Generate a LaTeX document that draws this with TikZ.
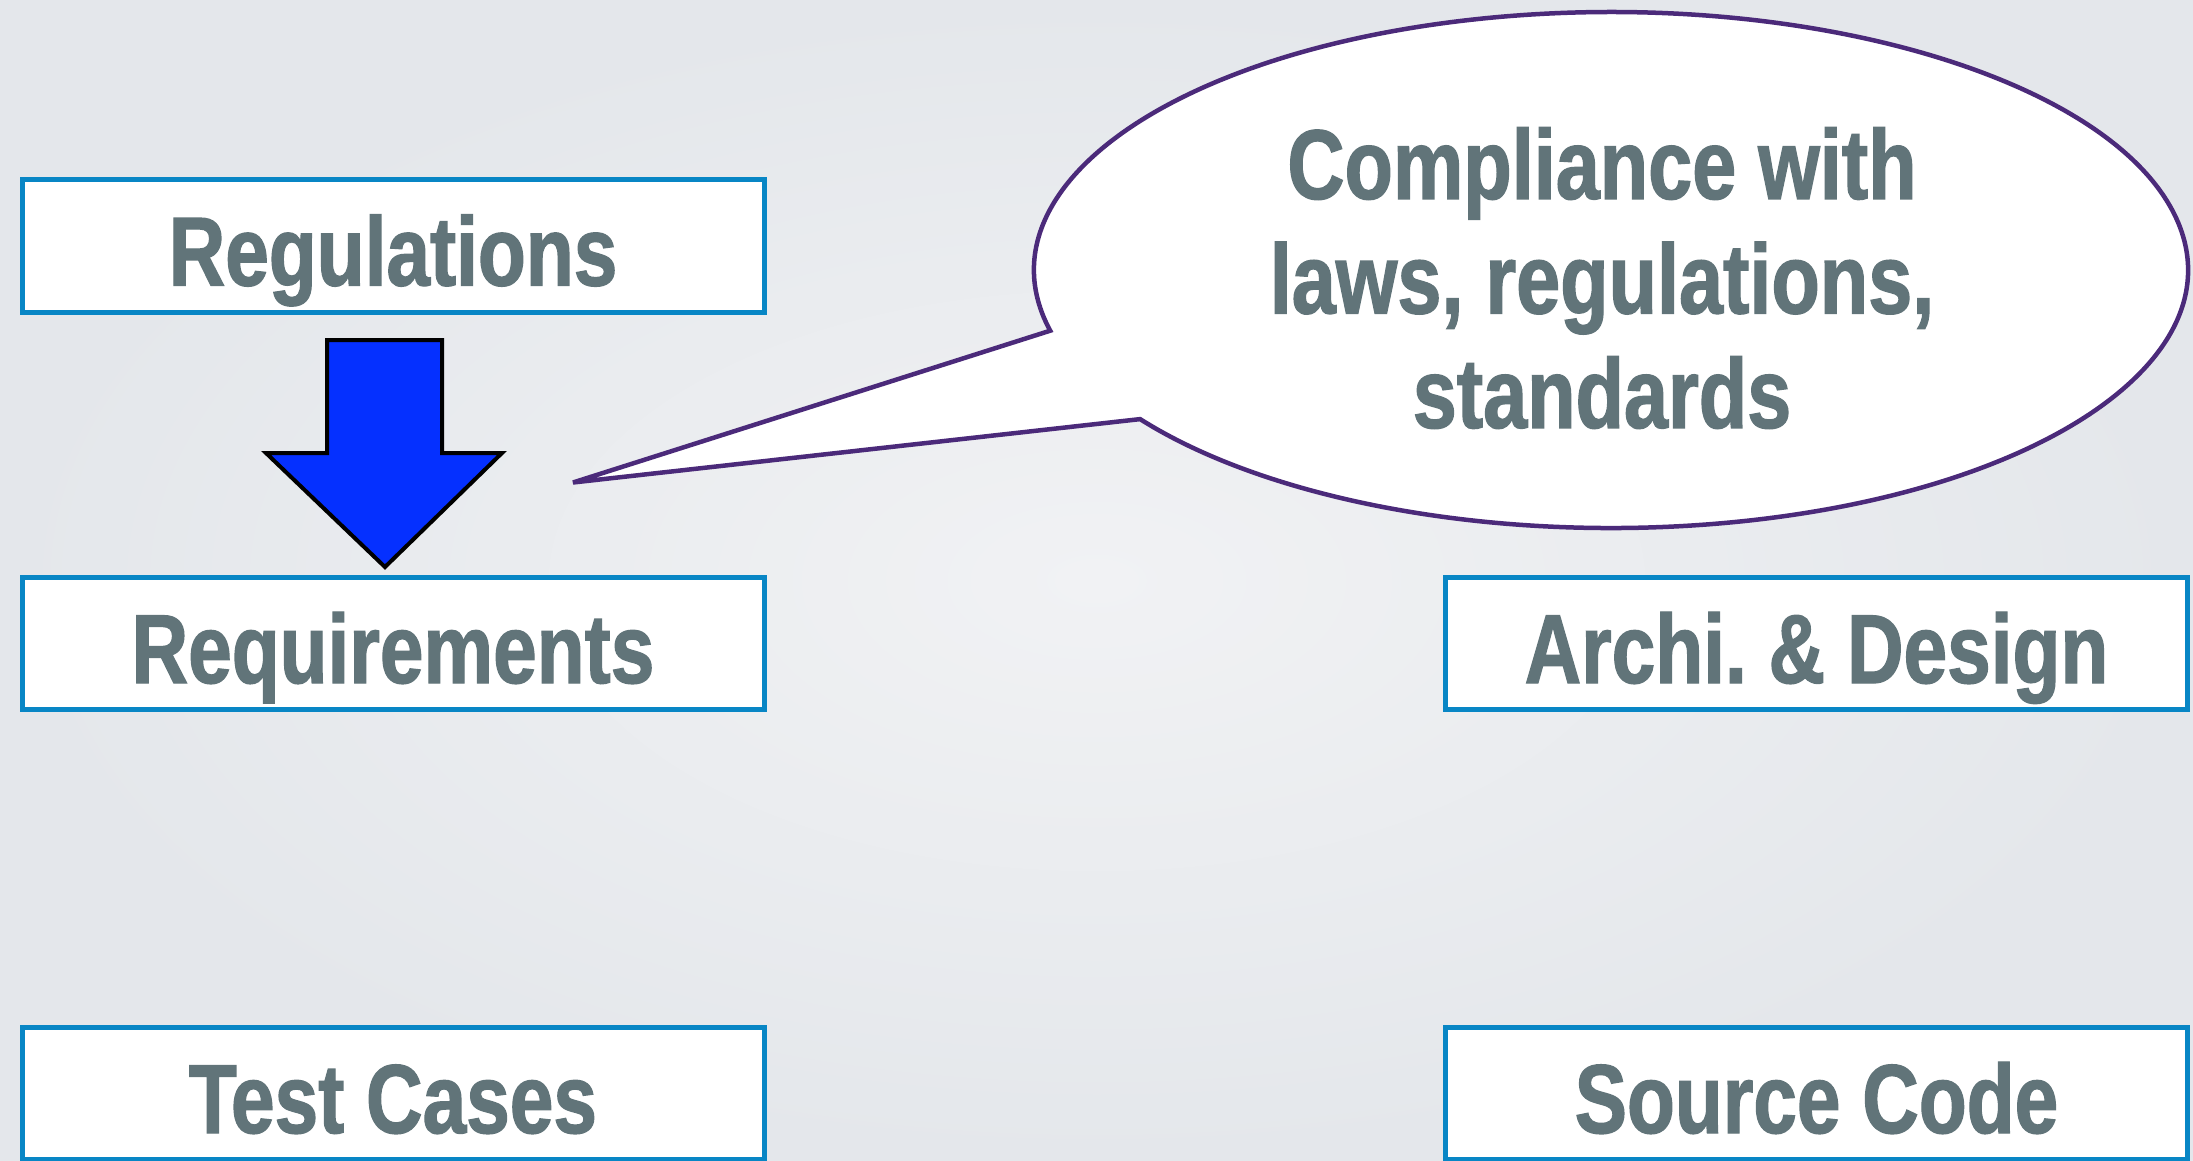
\documentclass[tikz,border=0pt]{standalone}
\usepackage{fontspec}
\newfontfamily\condfont[FakeStretch=0.80,FakeBold=1.3]{Liberation Sans}
\definecolor{boxblue}{RGB}{8,134,197}
\definecolor{txtgray}{RGB}{97,116,121}
\definecolor{arrowblue}{RGB}{5,48,255}
\definecolor{callpurple}{RGB}{75,42,122}
\definecolor{bgin}{RGB}{241,242,244}
\definecolor{bgout}{RGB}{228,231,235}
\begin{document}
\begin{tikzpicture}[x=1pt,y=-1pt,
  box/.style={draw=boxblue, line width=5pt, fill=white,
    minimum width=742pt, minimum height=132pt, inner sep=0pt,
    text height=79pt, text depth=0pt, text=txtgray,
    font={\condfont\bfseries\fontsize{98}{110}\selectfont}},
  blockarrow/.style={fill=arrowblue, draw=black, line width=4pt, line join=miter},
  callout/.style={fill=white, draw=callpurple, line width=4.5pt, line join=miter},
  calltext/.style={text=txtgray, align=center, inner sep=0pt,
    font={\condfont\bfseries\fontsize{99}{114.5}\selectfont}}]
\useasboundingbox (0,0) rectangle (2193,1161);
\shade[inner color=bgin, outer color=bgout] (0,0) rectangle (2193,1161);

\node[box] (reg)  at (393,246)      {Regulations};
\node[box] (req)  at (393,643.5)    {Requirements};
\node[box] (arch) at (1816.5,643.5) {Archi.\ \& Design};
\node[box] (test) at (393,1093.5)   {Test Cases};
\node[box] (src)  at (1816.5,1093.5){Source Code};

% block arrow from Regulations to Requirements
\coordinate (atip) at (385,567);
\draw[blockarrow] (327,340) -- (442,340) -- (442,453) -- (502,453)
  -- (atip) -- (266,453) -- (327,453) -- cycle;

% speech bubble
\coordinate (ctip) at (573,482.5);
\coordinate (cjoin) at (1050.2,330.7);
\draw[callout] (ctip) -- (cjoin)
  arc[start angle=193.6, end angle=-144.7, x radius=577pt, y radius=258pt]
  -- cycle;
\node[calltext] (ctext) at (1602,278) {Compliance with\\laws, regulations,\\standards};
\end{tikzpicture}
\end{document}
